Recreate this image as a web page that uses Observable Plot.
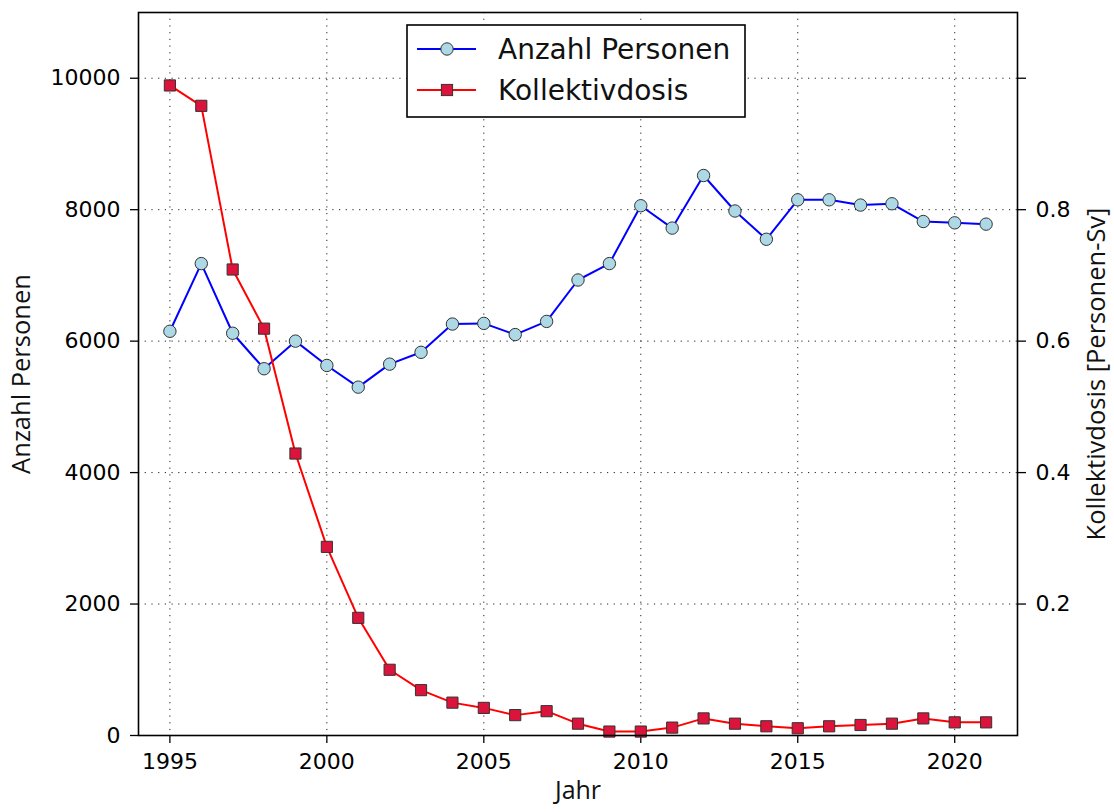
<!DOCTYPE html>
<html>
<head>
<meta charset="utf-8">
<script src="https://cdn.jsdelivr.net/npm/d3@7"></script>
<script src="https://cdn.jsdelivr.net/npm/@observablehq/plot@0.6"></script>
<style>
  html, body { margin: 0; padding: 0; background: white; }
</style>
</head>
<body>
<div id="chart"></div>
<script>
const years = [1995, 1996, 1997, 1998, 1999, 2000, 2001, 2002, 2003, 2004, 2005, 2006, 2007, 2008, 2009, 2010, 2011, 2012, 2013, 2014, 2015, 2016, 2017, 2018, 2019, 2020, 2021];
const anzahlPersonen = [6150, 7180, 6120, 5580, 6000, 5630, 5300, 5650, 5830, 6260, 6270, 6100, 6300, 6930, 7180, 8060, 7720, 8520, 7980, 7550, 8150, 8150, 8070, 8090, 7820, 7800, 7780];
const kollektivdosis = [0.989, 0.958, 0.709, 0.619, 0.429, 0.287, 0.179, 0.100, 0.069, 0.050, 0.042, 0.031, 0.037, 0.018, 0.006, 0.006, 0.012, 0.026, 0.018, 0.014, 0.011, 0.014, 0.016, 0.018, 0.026, 0.020, 0.020];
const xTicks = [1995, 2000, 2005, 2010, 2015, 2020];
const leftTicks = [0, 2000, 4000, 6000, 8000, 10000];
const rightTicks = [0.2, 0.4, 0.6, 0.8, 1.0];
const rightTickLabels = ["0.2", "0.4", "0.6", "0.8", ""];
const seriesNames = ["Anzahl Personen", "Kollektivdosis"];
const axisLabels = {x: "Jahr", left: "Anzahl Personen", right: "Kollektivdosis [Personen-Sv]"};

// ratio between the two y axes (right axis value * ratio = left axis value)
const ratio = 10000;

const persons = years.map((y, i) => ({year: y, value: anzahlPersonen[i]}));
const dose = years.map((y, i) => ({year: y, value: kollektivdosis[i]}));

const tickFont = "DejaVu Sans, sans-serif";
const labelFont = "Open Sans, sans-serif";

const svg = Plot.plot({
  width: 1114,
  height: 812,
  marginLeft: 138,
  marginRight: 97,
  marginTop: 12,
  marginBottom: 77,
  style: {background: "white", fontFamily: tickFont, fontSize: "22px", color: "black"},
  x: {domain: [1994, 2022]},
  y: {domain: [0, 11000]},
  marks: [
    Plot.gridX(xTicks, {stroke: "#222", strokeOpacity: 1, strokeWidth: 1, strokeDasharray: "1.2,5.5"}),
    Plot.gridY(leftTicks.filter(d => d > 0), {stroke: "#222", strokeOpacity: 1, strokeWidth: 1, strokeDasharray: "1.2,5.5"}),
    Plot.axisX({ticks: xTicks, tickFormat: d => String(d), tickSize: 8, tickPadding: 10, fontSize: 22, fontFamily: tickFont, label: null, stroke: "black", strokeWidth: 1.3}),
    Plot.axisY({ticks: leftTicks, tickFormat: d => String(d), tickSize: 8, tickPadding: 10, fontSize: 22, fontFamily: tickFont, label: null, strokeWidth: 1.3}),
    Plot.axisY({anchor: "right", ticks: rightTicks.map(d => d * ratio), tickFormat: d => rightTickLabels[rightTicks.findIndex(t => Math.abs(t * ratio - d) < 1e-6)], tickSize: 8, tickPadding: 10, fontSize: 22, fontFamily: tickFont, label: null, strokeWidth: 1.3}),
    Plot.lineY(persons, {x: "year", y: "value", stroke: "#0000ff", strokeWidth: 2}),
    Plot.dot(persons, {x: "year", y: "value", r: 6.2, fill: "#add8e6", stroke: "#333", strokeWidth: 1}),
    Plot.lineY(dose, {x: "year", y: d => d.value * ratio, stroke: "#ff0000", strokeWidth: 2}),
    Plot.dot(dose, {x: "year", y: d => d.value * ratio, symbol: "square", r: 6.3, fill: "#dc143c", stroke: "#333", strokeWidth: 1}),
    Plot.frame({stroke: "black", strokeWidth: 1.6}),
    Plot.text([axisLabels.left], {frameAnchor: "left", textAnchor: "middle", rotate: -90, dx: -117, fontSize: 25.5, fontFamily: labelFont, fill: "#111"}),
    Plot.text([axisLabels.right], {frameAnchor: "right", textAnchor: "middle", rotate: -90, dx: 79, fontSize: 25.5, fontFamily: labelFont, fill: "#111"}),
    Plot.text([axisLabels.x], {frameAnchor: "bottom", textAnchor: "middle", dy: 63, fontSize: 25, fontFamily: labelFont, fill: "#111"})
  ]
});

// Legend inside the plot (upper center)
const lg = d3.select(svg).append("g").attr("class", "legend").attr("text-anchor", "start");
lg.append("rect").attr("x", 407).attr("y", 25).attr("width", 338).attr("height", 92)
  .attr("fill", "white").attr("stroke", "black").attr("stroke-width", 1.6);
const rows = [
  {name: seriesNames[0], color: "#0000ff", fill: "#add8e6", shape: "circle", y: 49},
  {name: seriesNames[1], color: "#ff0000", fill: "#dc143c", shape: "square", y: 90}
];
rows.forEach(r => {
  lg.append("line").attr("x1", 417).attr("x2", 476).attr("y1", r.y).attr("y2", r.y)
    .attr("stroke", r.color).attr("stroke-width", 2);
  if (r.shape === "circle") {
    lg.append("circle").attr("cx", 447).attr("cy", r.y).attr("r", 6.2)
      .attr("fill", r.fill).attr("stroke", "#333").attr("stroke-width", 1);
  } else {
    lg.append("rect").attr("x", 447 - 5.6).attr("y", r.y - 5.6).attr("width", 11.2).attr("height", 11.2)
      .attr("fill", r.fill).attr("stroke", "#333").attr("stroke-width", 1);
  }
  lg.append("text").attr("x", 498).attr("y", r.y).attr("dy", "0.36em").attr("text-anchor", "start")
    .attr("font-family", tickFont).attr("font-size", 28).attr("fill", "#111").text(r.name);
});

document.getElementById("chart").appendChild(svg);
</script>
</body>
</html>
